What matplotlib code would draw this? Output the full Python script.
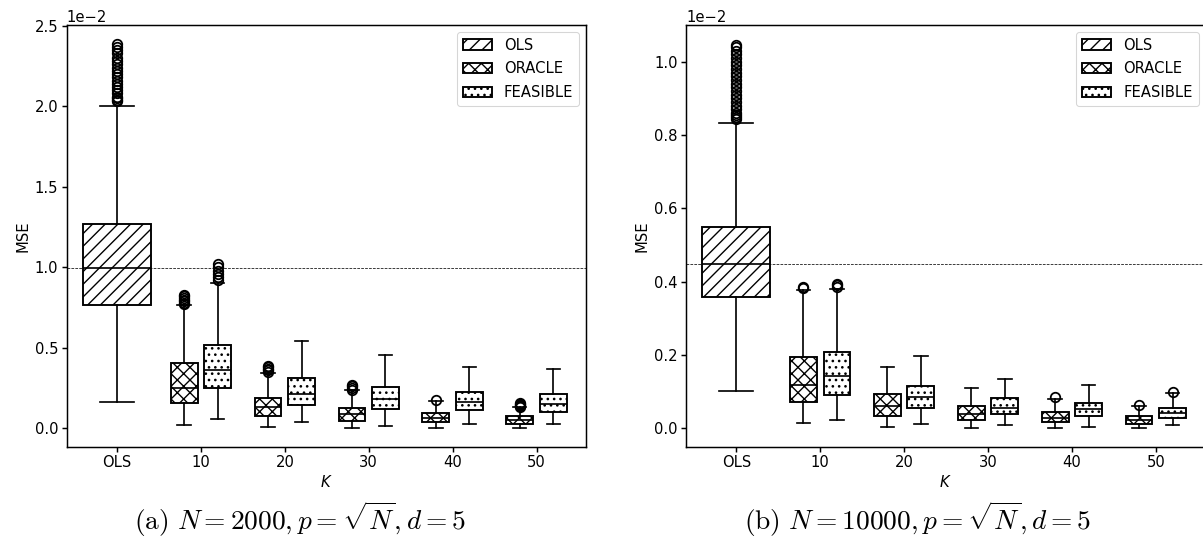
"""
Boxplots of MSE against K for OLS / ORACLE / FEASIBLE, two sample sizes.
Box statistics read off the published figure (values in units of 1e-2).
"""

import matplotlib
matplotlib.use("Agg")
import matplotlib.pyplot as plt
import matplotlib.patches as mpatches

SCALE = 1e-2  # all numbers below are in units of 1e-2

k_labels = ["OLS", "10", "20", "30", "40", "50"]
k_values = [10, 20, 30, 40, 50]

# ---- (a) N = 2000 ----
a_ols = dict(q1=0.766, med=0.995, q3=1.266, whislo=0.163, whishi=2.00,
             fliers=[2.03, 2.04, 2.05, 2.06, 2.08, 2.10, 2.12, 2.14, 2.16, 2.18,
                     2.20, 2.22, 2.24, 2.26, 2.28, 2.30, 2.33, 2.35, 2.37, 2.39])
a_oracle_q1 = [0.159, 0.076, 0.047, 0.037, 0.029]
a_oracle_med = [0.252, 0.130, 0.087, 0.064, 0.051]
a_oracle_q3 = [0.407, 0.188, 0.124, 0.097, 0.074]
a_oracle_lo = [0.020, 0.010, 0.004, 0.004, 0.004]
a_oracle_hi = [0.766, 0.345, 0.237, 0.172, 0.130]
a_oracle_fliers = [[0.77, 0.78, 0.79, 0.80, 0.81, 0.82, 0.83],
                   [0.35, 0.36, 0.37, 0.38, 0.385],
                   [0.24, 0.25, 0.26, 0.27],
                   [0.178],
                   [0.135, 0.14, 0.145, 0.15, 0.155]]
a_feas_q1 = [0.248, 0.146, 0.121, 0.113, 0.099]
a_feas_med = [0.361, 0.212, 0.181, 0.165, 0.152]
a_feas_q3 = [0.516, 0.310, 0.258, 0.227, 0.211]
a_feas_lo = [0.059, 0.040, 0.016, 0.025, 0.027]
a_feas_hi = [0.905, 0.540, 0.454, 0.382, 0.366]
a_feas_fliers = [[0.92, 0.94, 0.96, 0.98, 1.00, 1.02], [], [], [], []]

# ---- (b) N = 10000 ----
b_ols = dict(q1=0.359, med=0.449, q3=0.549, whislo=0.103, whishi=0.834,
             fliers=[0.845, 0.85, 0.855, 0.86, 0.87, 0.88, 0.89, 0.90, 0.91, 0.92,
                     0.93, 0.94, 0.95, 0.96, 0.97, 0.98, 0.99, 1.00, 1.01, 1.02,
                     1.03, 1.04, 1.045])
b_oracle_q1 = [0.073, 0.035, 0.023, 0.016, 0.012]
b_oracle_med = [0.118, 0.061, 0.039, 0.028, 0.023]
b_oracle_q3 = [0.195, 0.093, 0.060, 0.044, 0.034]
b_oracle_lo = [0.014, 0.004, 0.002, 0.001, 0.001]
b_oracle_hi = [0.378, 0.167, 0.109, 0.081, 0.061]
b_oracle_fliers = [[0.382, 0.385], [], [], [0.085], [0.065]]
b_feas_q1 = [0.092, 0.055, 0.040, 0.034, 0.029]
b_feas_med = [0.143, 0.085, 0.056, 0.052, 0.042]
b_feas_q3 = [0.207, 0.115, 0.082, 0.069, 0.056]
b_feas_lo = [0.023, 0.011, 0.009, 0.004, 0.009]
b_feas_hi = [0.379, 0.197, 0.135, 0.118, 0.097]
b_feas_fliers = [[0.385, 0.39, 0.395], [], [], [], [0.100]]

HATCH = {"OLS": "//", "ORACLE": "xx", "FEASIBLE": ".."}

plt.rcParams["hatch.linewidth"] = 1.3
plt.rcParams["font.size"] = 14


def make_stats(q1, med, q3, lo, hi, fliers):
    out = []
    for i in range(len(q1)):
        out.append(dict(q1=q1[i] * SCALE, med=med[i] * SCALE, q3=q3[i] * SCALE,
                        whislo=lo[i] * SCALE, whishi=hi[i] * SCALE,
                        fliers=[f * SCALE for f in fliers[i]]))
    return out


def draw_group(ax, stats, positions, width, hatch):
    lw = 1.8
    res = ax.bxp(stats, positions=positions, widths=width, patch_artist=True,
                 manage_ticks=False,
                 boxprops=dict(facecolor="white", edgecolor="k", linewidth=lw, hatch=hatch),
                 medianprops=dict(color="k", linewidth=1.6),
                 whiskerprops=dict(color="k", linewidth=1.6),
                 capprops=dict(color="k", linewidth=1.6),
                 flierprops=dict(marker="o", markersize=9, markerfacecolor="none",
                                 markeredgecolor="k", markeredgewidth=1.7))
    return res


def draw_panel(ax, ols, oq1, omed, oq3, olo, ohi, ofl, fq1, fmed, fq3, flo, fhi, ffl, ylim):
    ols_stats = [dict(q1=ols["q1"] * SCALE, med=ols["med"] * SCALE, q3=ols["q3"] * SCALE,
                      whislo=ols["whislo"] * SCALE, whishi=ols["whishi"] * SCALE,
                      fliers=[f * SCALE for f in ols["fliers"]])]
    draw_group(ax, ols_stats, [0], 0.81, HATCH["OLS"])

    pos = list(range(1, len(k_values) + 1))
    draw_group(ax, make_stats(oq1, omed, oq3, olo, ohi, ofl),
               [p - 0.2 for p in pos], 0.32, HATCH["ORACLE"])
    draw_group(ax, make_stats(fq1, fmed, fq3, flo, fhi, ffl),
               [p + 0.2 for p in pos], 0.32, HATCH["FEASIBLE"])

    ax.axhline(ols["med"] * SCALE, color="k", linestyle="--", linewidth=0.7, zorder=0.5)

    ax.set_xticks(range(len(k_labels)))
    ax.set_xticklabels(k_labels)
    ax.set_xlim(-0.6, 5.59)
    ax.set_ylim(ylim[0] * SCALE, ylim[1] * SCALE)
    ax.ticklabel_format(axis="y", style="sci", scilimits=(0, 0))
    ax.set_xlabel(r"$K$")
    ax.set_ylabel("MSE")
    for s in ax.spines.values():
        s.set_linewidth(1.4)
    ax.tick_params(width=1.4, length=4.5)

    handles = [mpatches.Patch(facecolor="white", edgecolor="k", linewidth=1.8, hatch=HATCH[n], label=n)
               for n in ["OLS", "ORACLE", "FEASIBLE"]]
    ax.legend(handles=handles, loc="upper right", fontsize=14, borderaxespad=0.45,
              labelspacing=0.6)


fig = plt.figure(figsize=(1203 / 76, 548 / 76), dpi=76)
ax1 = fig.add_axes([66.7 / 1203, 1 - 446.7 / 548, 519.3 / 1203, 421.7 / 548])
ax2 = fig.add_axes([686 / 1203, 1 - 446.7 / 548, 519.3 / 1203, 421.7 / 548])

draw_panel(ax1, a_ols, a_oracle_q1, a_oracle_med, a_oracle_q3, a_oracle_lo, a_oracle_hi,
           a_oracle_fliers, a_feas_q1, a_feas_med, a_feas_q3, a_feas_lo, a_feas_hi,
           a_feas_fliers, (-0.114, 2.505))
draw_panel(ax2, b_ols, b_oracle_q1, b_oracle_med, b_oracle_q3, b_oracle_lo, b_oracle_hi,
           b_oracle_fliers, b_feas_q1, b_feas_med, b_feas_q3, b_feas_lo, b_feas_hi,
           b_feas_fliers, (-0.050, 1.100))

fig.text(300 / 1203, 1 - 519 / 548, r"$\mathrm{(a)}\ N=2000, p=\sqrt{N}, d=5$",
         math_fontfamily="cm", fontsize=26, ha="center", va="center")
fig.text(918 / 1203, 1 - 519 / 548, r"$\mathrm{(b)}\ N=10000, p=\sqrt{N}, d=5$",
         math_fontfamily="cm", fontsize=26, ha="center", va="center")

fig.savefig("out.png", dpi=76)
